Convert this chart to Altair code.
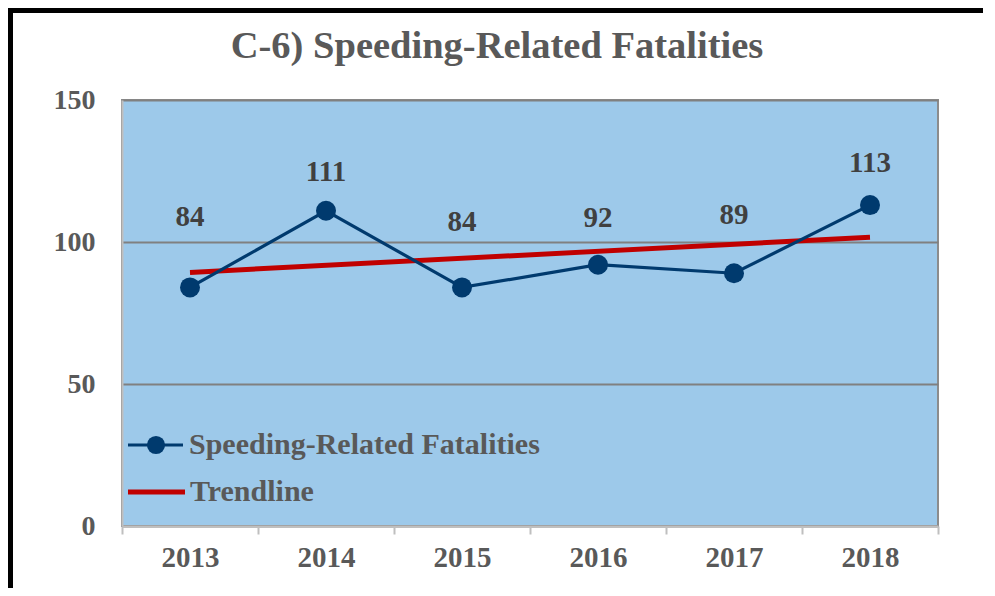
import altair as alt
import pandas as pd

years = ["2013", "2014", "2015", "2016", "2017", "2018"]
fatalities = [84, 111, 84, 92, 89, 113]
label_heights = [108.8, 124.6, 107.0, 108.5, 109.5, 127.8]
trend_years = ["2013", "2018"]
trend_values = [89.3, 101.7]
y_ticks = [0, 50, 100, 150]

title_text = "C-6) Speeding-Related Fatalities"
series_name = "Speeding-Related Fatalities"
trend_name = "Trendline"

NAVY = "#003A6E"
RED = "#C00000"
GRAY_TEXT = "#595959"
FONT = "Liberation Serif"

df = pd.DataFrame({"year": years, "value": fatalities, "label_y": label_heights})
tdf = pd.DataFrame({"year": trend_years, "value": trend_values})

x_enc = alt.X(
    "year:N",
    sort=years,
    scale=alt.Scale(paddingInner=0, paddingOuter=0),
    axis=alt.Axis(
        title=None, labelAngle=0, tickBand="extent", ticks=True,
        tickColor="#BFBFBF", tickWidth=2, tickSize=8,
        labelFontSize=29, labelPadding=9, domainColor="#BFBFBF", domainWidth=2,
    ),
)
y_scale = alt.Scale(domain=[0, 150], nice=False)
y_enc = alt.Y(
    "value:Q",
    scale=y_scale,
    axis=alt.Axis(
        title=None, values=y_ticks, ticks=False, tickSize=0,
        grid=True, gridColor="#808080", gridWidth=2,
        domainColor="#BFBFBF", domainWidth=2,
        labelFontSize=28, labelPadding=27,
    ),
)

trend = alt.Chart(tdf).mark_line(color=RED, strokeWidth=5, strokeCap="butt").encode(x=x_enc, y=y_enc)
line = alt.Chart(df).mark_line(color=NAVY, strokeWidth=3.2).encode(x=x_enc, y=y_enc)
points = alt.Chart(df).mark_circle(color=NAVY, size=400, opacity=1).encode(x=x_enc, y=y_enc)
labels = alt.Chart(df).mark_text(
    font=FONT, fontSize=29, fontWeight="bold", color="#404040", baseline="middle", align="center"
).encode(
    x=x_enc,
    y=alt.Y("label_y:Q", scale=y_scale),
    text=alt.Text("value:Q"),
)

one = alt.Data(values=[{"k": 1}])

# chart title
title = alt.Chart(one).mark_text(
    font=FONT, fontSize=38.5, fontWeight="bold", color=GRAY_TEXT, align="center", baseline="alphabetic"
).encode(x=alt.value(375), y=alt.value(-42), text=alt.value(title_text))

# manual legend inside the plot
leg_line1 = alt.Chart(one).mark_rule(color=NAVY, strokeWidth=3.2).encode(
    x=alt.value(6), x2=alt.value(61), y=alt.value(345))
leg_dot1 = alt.Chart(one).mark_circle(color=NAVY, size=330, opacity=1).encode(
    x=alt.value(34), y=alt.value(345))
leg_text1 = alt.Chart(one).mark_text(
    font=FONT, fontSize=30, fontWeight="bold", color=GRAY_TEXT, align="left", baseline="middle"
).encode(x=alt.value(67), y=alt.value(345), text=alt.value(series_name))
leg_line2 = alt.Chart(one).mark_rule(color=RED, strokeWidth=5).encode(
    x=alt.value(6), x2=alt.value(63), y=alt.value(392))
leg_text2 = alt.Chart(one).mark_text(
    font=FONT, fontSize=30, fontWeight="bold", color=GRAY_TEXT, align="left", baseline="middle"
).encode(x=alt.value(68), y=alt.value(392), text=alt.value(trend_name))

# black frame (left and top edges)
frame_left = alt.Chart(one).mark_rule(color="black", strokeWidth=5).encode(
    x=alt.value(-111.5), y=alt.value(-92), y2=alt.value(500))
frame_top = alt.Chart(one).mark_rule(color="black", strokeWidth=5).encode(
    x=alt.value(-114), x2=alt.value(900), y=alt.value(-89.5))

chart = alt.layer(
    trend, line, points, labels, title,
    leg_line1, leg_dot1, leg_text1, leg_line2, leg_text2,
    frame_left, frame_top,
).properties(
    width=816,
    height=426,
    padding={"left": 114, "top": 92, "right": 45, "bottom": 62},
    autosize=alt.AutoSizeParams(type="none"),
).configure_view(
    fill="#9DC9EA", stroke="#8C8C8C", strokeWidth=2
).configure_axis(
    labelFont=FONT, labelFontWeight="bold", labelColor=GRAY_TEXT,
)

chart.save("out.html", embed_options={"renderer": "svg", "actions": False})
